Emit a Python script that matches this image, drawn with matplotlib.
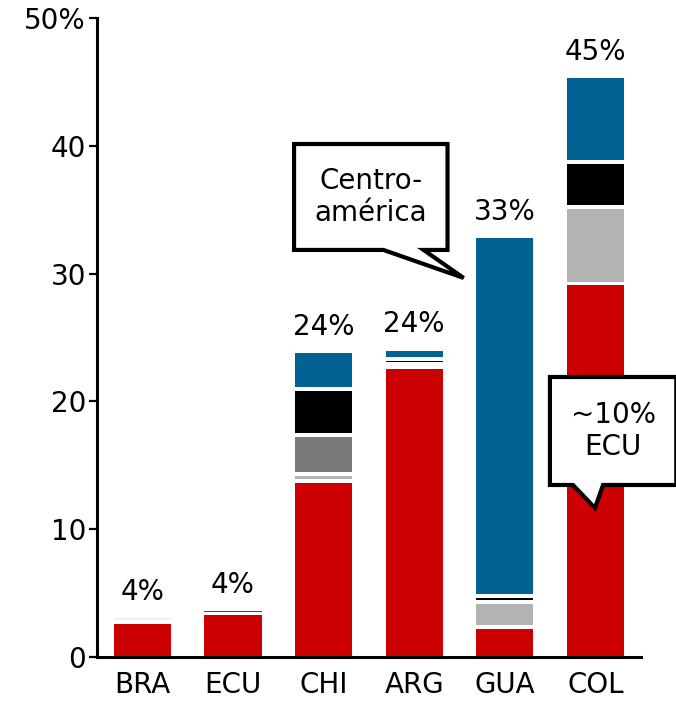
import numpy as np
import matplotlib
matplotlib.use('Agg')
import matplotlib.pyplot as plt
from matplotlib.patches import Polygon

# share of exports by destination, stacked by segment (percent)
countries = ['BRA', 'ECU', 'CHI', 'ARG', 'GUA', 'COL']
red    = [2.75, 3.40, 13.75, 22.69, 2.37, 29.23]
otros  = [0.45, 0.00, 0.00, 0.22, 0.00, 0.00]
lgray  = [0.00, 0.00, 0.55, 0.00, 1.93, 5.98]
dgray  = [0.00, 0.00, 3.10, 0.00, 0.00, 0.00]
black  = [0.00, 0.00, 3.55, 0.40, 0.50, 3.52]
blue   = [0.00, 0.35, 3.00, 0.81, 28.14, 6.70]
totals = ['4%', '4%', '24%', '24%', '33%', '45%']

series = [red, otros, lgray, dgray, black, blue]
colors = ['#CC0000', '#F0F0F0', '#B3B3B3', '#7A7A7A', '#000000', '#006394']

gap = 0.3      # white separation between segments
width = 0.63

plt.rcParams['font.family'] = ['DejaVu Sans']
fig = plt.figure(figsize=(6.76, 7.06), dpi=100)
ax = fig.add_axes([0.1435, 0.0694, 0.8045, 0.9051])

x = np.arange(len(countries))
cum = np.zeros(len(countries))
for k, (vals, col) in enumerate(zip(series, colors)):
	vals = np.array(vals)
	for i in range(len(countries)):
		lo = cum[i] + gap / 2 if k > 0 else 0.0
		h = cum[i] + vals[i] - gap / 2 - lo
		if vals[i] > 0 and h > 0:
			ax.bar(x[i], h, width, bottom=lo, color=col, linewidth=0)
		elif vals[i] > 0:
			# very thin segment, shows only as a faint line
			ax.bar(x[i], 0.06, width, bottom=cum[i] + vals[i] / 2, color=col, linewidth=0, alpha=0.35)
	cum = cum + vals

for i in range(len(countries)):
	ax.annotate(totals[i], (x[i], cum[i]), xytext=(0, 17.5), textcoords='offset points',
				ha='center', va='center', fontsize=20)

# callouts
def callout(pts, text, tx, ty):
	poly = Polygon(pts, closed=True, facecolor='white', edgecolor='black',
				   linewidth=3, joinstyle='miter', clip_on=False, zorder=5)
	ax.add_patch(poly)
	ax.text(tx, ty, text, ha='center', va='center', fontsize=20, zorder=6,
			linespacing=1.2)

callout([(1.674, 40.14), (3.367, 40.14), (3.367, 31.85), (3.103, 31.85),
		 (3.545, 29.66), (2.660, 31.85), (1.674, 31.85)],
		'Centro-\namérica', 2.52, 36.0)
callout([(4.497, 21.91), (5.891, 21.91), (5.891, 13.46), (5.083, 13.46),
		 (4.994, 11.66), (4.751, 13.46), (4.497, 13.46)],
		'~10%\nECU', 5.194, 17.68)

ax.set_xlim(-0.5, 5.5)
ax.set_ylim(0, 50)
ax.set_yticks([0, 10, 20, 30, 40, 50])
ax.set_yticklabels(['0', '10', '20', '30', '40', '50%'])
ax.set_xticks(x)
ax.set_xticklabels(countries)
ax.tick_params(axis='y', length=6, width=1.6, pad=2, labelsize=20)
ax.tick_params(axis='x', length=0, pad=10, labelsize=20)
for s in ['top', 'right']:
	ax.spines[s].set_visible(False)
for s in ['left', 'bottom']:
	ax.spines[s].set_linewidth(2.2)

plt.savefig('out.png', dpi=100)
